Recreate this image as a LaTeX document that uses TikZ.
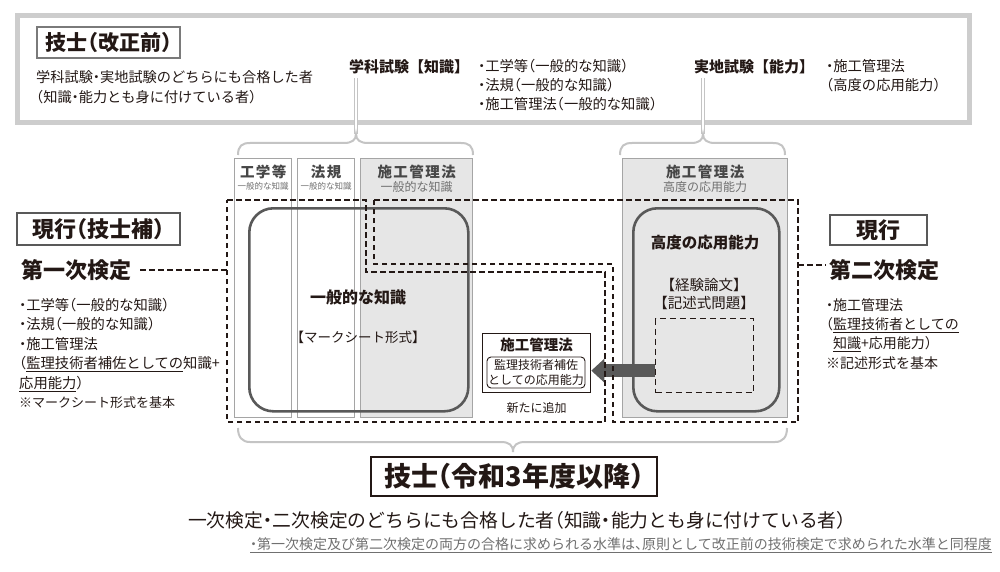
\documentclass[tikz,border=0pt]{standalone}
\usepackage{fontspec}
\setmainfont{Noto Sans CJK JP}[CharacterWidth=AlternateHalf]
\newfontfamily\fw{Noto Sans CJK JP}
\newfontfamily\wide{Noto Sans CJK JP}[LetterSpace=10]
\usetikzlibrary{arrows.meta,positioning,calc}
\definecolor{ink}{HTML}{231815}
\definecolor{frm}{HTML}{C4C4C4}
\definecolor{colfill}{HTML}{E6E6E6}
\definecolor{colline}{HTML}{A5A5A5}
\definecolor{dark}{HTML}{595959}
\definecolor{sub}{HTML}{707070}
\newcommand{\fsz}[2]{\fontsize{#1}{#2}\selectfont}

\begin{document}
\begin{tikzpicture}[x=1pt,y=-1pt,
  every node/.style={inner sep=0pt,text=ink},
  body/.style={anchor=west,align=left,font=\fsz{14.2}{20}},
  tag/.style={draw=dark,line width=1.1pt,font=\bfseries\fsz{22}{22}},
  col/.style={draw=colline,line width=1.4pt,anchor=north west,minimum height=259pt},
  hd/.style={font=\wide\bfseries\fsz{14.5}{14.5},text=dark!80!black},
  subhd/.style={text=sub},
  bigbox/.style={draw=dark,line width=2.6pt,rounded corners=24pt,anchor=north west,minimum height=203pt},
  dashline/.style={ink,line width=2.3pt,dash pattern=on 5.5pt off 3.5pt},
  brace/.style={frm,line width=2pt},
  stem/.style={frm,line width=1.4pt,double=white,double distance=1.4pt},
  bigarrow/.style={dark,line width=12.5pt,-{Triangle[length=13pt,width=23pt]}}]
\fill[white] (0,0) rectangle (1000,572);
\useasboundingbox (0,0) rectangle (1000,572);

% old system
\draw[frm!85,line width=5pt] (17.5,15.5) rectangle (969.5,122.5);
\node[tag,draw=dark!80,font=\bfseries\fsz{21}{21},minimum width=143pt,minimum height=31pt] (old) at (108.5,42.5) {技士（改正前）};
\node[body] (oldtxt) at (36,87) {学科試験・実地試験のどちらにも合格した者\\（知識・能力とも身に付けている者）};
\node[anchor=west,font=\fw\bfseries\fsz{15}{15}] (gaku) at (349,67) {学科試験【知識】};
\node[body,font=\fsz{14.3}{19}] (gakul) at (478,85) {・工学等（一般的な知識）\\・法規（一般的な知識）\\・施工管理法（一般的な知識）};
\node[anchor=west,font=\fw\bfseries\fsz{15}{15}] (jitchi) at (694,67) {実地試験【能力】};
\node[body,font=\fsz{14.3}{19}] (jitchil) at (826,75.5) {・施工管理法\\（高度の応用能力）};

% braces
\coordinate (k1) at (356,78);
\coordinate (k1tip) at (356,134);
\coordinate (k2) at (703,78);
\coordinate (k2tip) at (703,134);
\draw[stem] (k1) -- (k1tip);
\draw[stem] (k2) -- (k2tip);
\draw[brace] (238,155) .. controls (238,146) and (242,143) .. (250,143) -- (344,143) .. controls (352,143) and (356,140) .. (k1tip) .. controls (356,140) and (360,143) .. (368,143) -- (461,143) .. controls (469,143) and (473,146) .. (473,155);
\draw[brace] (620,155) .. controls (620,146) and (624,143) .. (632,143) -- (691,143) .. controls (699,143) and (703,140) .. (k2tip) .. controls (703,140) and (707,143) .. (715,143) -- (773,143) .. controls (781,143) and (785,146) .. (785,155);

% columns
\node[col,fill=white,minimum width=57pt] (c1) at (234,158) {};
\node[col,fill=white,minimum width=57pt] (c2) at (297,158) {};
\node[col,fill=colfill,minimum width=112pt] (c3) at (360,158) {};
\node[col,fill=colfill,minimum width=165pt] (c4) at (622,158) {};
\node[hd,below=7pt of c1.north] (c1h) {工学等};
\node[subhd,font=\fsz{8.5}{8.5},below=2.5pt of c1h] (c1s) {一般的な知識};
\node[hd,below=7pt of c2.north] (c2h) {法規};
\node[subhd,font=\fsz{8.5}{8.5},below=2.5pt of c2h] (c2s) {一般的な知識};
\node[hd,below=7pt of c3.north] (c3h) {施工管理法};
\node[subhd,font=\fsz{12}{12},below=2pt of c3h] (c3s) {一般的な知識};
\node[hd,below=7pt of c4.north] (c4h) {施工管理法};
\node[subhd,font=\fsz{12}{12},below=2pt of c4h] (c4s) {高度の応用能力};

% newly added
\node[draw=ink,line width=1.2pt,dash pattern=on 6pt off 4pt,minimum width=98pt,minimum height=74pt,anchor=north west] (ess) at (655,318) {};
\node[draw=ink,line width=1.3pt,minimum width=108pt,minimum height=59pt,anchor=north west] (nb) at (482,333) {};
\node[font=\bfseries\fsz{14.5}{14.5},below=5pt of nb.north] (nbt) {施工管理法};
\node[draw=ink,line width=0.9pt,rounded corners=4pt,minimum width=98pt,minimum height=31pt,align=center,font=\fsz{12}{14.5}] (nbi) at (536,372.5) {監理技術者補佐\\としての応用能力};
\node[font=\fsz{12}{12},below=9pt of nb.south] (nbn) {新たに追加};
\coordinate (a1) at ($(ess.south west)!.3!(ess.north west)$);
\draw[bigarrow] (a1) -- (a1 -| nb.east);

% knowledge / ability
\node[bigbox,minimum width=219pt] (gen) at (248,207) {};
\node[bigbox,minimum width=146pt] (adv) at (632,207) {};
\node[font=\bfseries\fsz{16}{16}] (gent) at (358,297) {一般的な知識};
\node[font=\fw\fsz{13.5}{13.5},below=26pt of gent] (genm) {【マークシート形式】};
\node[font=\bfseries\fsz{15.5}{15.5}] (advt) at (705,243) {高度の応用能力};
\node[font=\fw\fsz{14.5}{18},align=center] (advm) at (704,294) {【経験論文】\\【記述式問題】};

% exam ranges
\draw[dashline] (227,200) -- (366,200) -- (366,272) -- (605,272) -- (605,422) -- (227,422) -- cycle;
\draw[dashline] (374,200) -- (798,200) -- (798,422) -- (613,422) -- (613,264) -- (374,264) -- cycle;

% first exam
\node[tag,minimum width=163pt,minimum height=32pt] (cur1) at (98.5,229) {現行（技士補）};
\node[anchor=west,font=\bfseries\fsz{22}{22}] (first) at (21,270) {第一次検定};
\coordinate (l1) at (227,270);
\draw[dashline,shorten <=9pt] (first.east) -- (l1);
\node[body,font=\fsz{14.3}{19.4}] (firstl) at (19,353.5) {・工学等（一般的な知識）\\・法規（一般的な知識）\\・施工管理法\\（\underline{監理技術者補佐としての}知識+\\\underline{応用能力}）\\{\fsz{13}{19.4}※マークシート形式を基本}};

% second exam
\node[tag,minimum width=97pt,minimum height=30pt] (cur2) at (878.5,230) {現行};
\node[anchor=west,font=\bfseries\fsz{22}{22}] (second) at (829,270) {第二次検定};
\coordinate (r1) at (798,265);
\draw[dashline,shorten >=3pt] (r1) -- (r1 -| second.west);
\node[body,font=\fsz{14}{19.3}] (secondl) at (826,334) {・施工管理法\\（\underline{監理技術者としての}\\\hspace{0.5em}\underline{知識}+応用能力）\\※記述形式を基本};

% new system
\draw[brace] (238,428) .. controls (238,437) and (242,442) .. (250,442) -- (501,442) .. controls (509,442) and (513,445) .. (513,452) .. controls (513,445) and (517,442) .. (525,442) -- (775,442) .. controls (783,442) and (787,437) .. (787,428);
\node[draw=ink,line width=1.3pt,minimum width=286pt,minimum height=39pt,font=\bfseries\fsz{27}{27}] (new) at (514,476.5) {技士（令和3年度以降）};
\node[font=\fsz{18.8}{18.8}] (newtxt) at (517,520) {一次検定・二次検定のどちらにも合格した者（知識・能力とも身に付けている者）};
\node[font=\fsz{14}{14},text=sub] (note) at (621,545) {\underline{・第一次検定及び第二次検定の両方の合格に求められる水準は、原則として改正前の技術検定で求められた水準と同程度}};
\end{tikzpicture}
\end{document}
